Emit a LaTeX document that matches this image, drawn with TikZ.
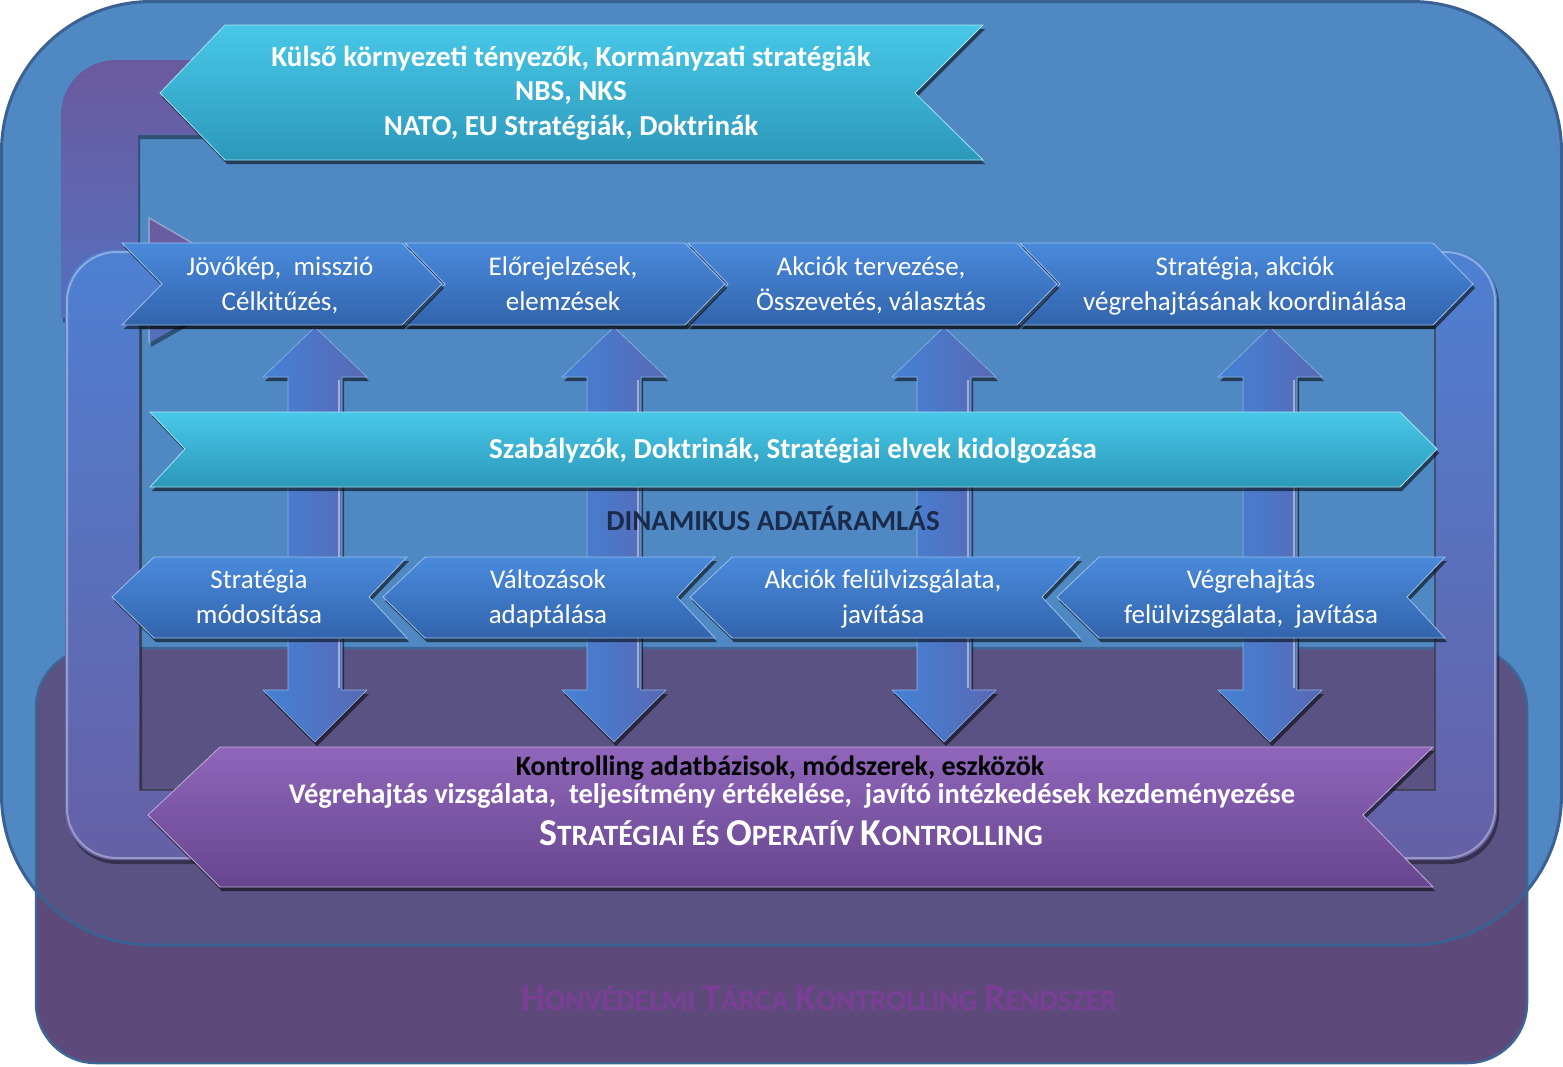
\documentclass[tikz,border=0pt]{standalone}
\usepackage{fontspec}
\setmainfont{Carlito}
\usetikzlibrary{shadows}
\definecolor{bgblue}{HTML}{4F88C2}
\definecolor{bgblueedge}{HTML}{3A6192}
\definecolor{bgpurple}{HTML}{5E4A7A}
\definecolor{bgmix}{HTML}{5A5283}
\definecolor{purpleedge}{HTML}{3F6595}
\definecolor{chevtop}{HTML}{4A8ADC}
\definecolor{chevbot}{HTML}{3264AC}
\definecolor{cyantop}{HTML}{48C8E8}
\definecolor{cyanbot}{HTML}{2C98BA}
\definecolor{purtop}{HTML}{9066BB}
\definecolor{purbot}{HTML}{66458E}
\definecolor{pipetop}{HTML}{4E80D2}
\definecolor{pipebot}{HTML}{6660A6}
\definecolor{pipeonetop}{HTML}{6B5A9D}
\definecolor{pipeonebot}{HTML}{5470C0}
\definecolor{varrleft}{HTML}{4582D6}
\definecolor{varrright}{HTML}{5868B4}
\definecolor{titlepurple}{HTML}{7A3E96}
\definecolor{navy}{HTML}{1B2B4B}
\newcommand\hvBig[1]{{\fontsize{38}{38}\selectfont #1}}
\newcommand\hvSm[1]{{\fontsize{29.5}{29.5}\selectfont #1}}
\newcommand\stBig[1]{{\fontsize{38}{38}\selectfont #1}}
\newcommand\stSm[1]{{\fontsize{29.5}{29.5}\selectfont #1}}
\tikzset{
  shad/.style={drop shadow={shadow xshift=2pt, shadow yshift=-4pt, opacity=0.55, fill=black}},
  chev/.style={top color=chevtop, bottom color=chevbot, draw=chevtop!55!white, line width=0.8pt, shad},
  cyanarrow/.style={top color=cyantop, bottom color=cyanbot, draw=cyantop!50!white, line width=0.8pt, shad},
  purarrow/.style={top color=purtop, bottom color=purbot, draw=purtop!55!white, line width=0.8pt, shad},
  vertarrow/.style={left color=varrleft, right color=varrright, draw=varrleft!60!white, line width=0.6pt, shad},
  pipetwo/.style={top color=pipetop, bottom color=pipebot},
  pipeone/.style={top color=pipeonetop, bottom color=pipeonebot},
  pipeshadow/.style={fill=black, opacity=0.4},
  chevtext/.style={text=white, font=\fontsize{27}{33}\selectfont, anchor=base, inner sep=0pt},
  boldwhite/.style={text=white, font=\bfseries\fontsize{29}{32}\selectfont, anchor=base, inner sep=0pt},
}
\begin{document}
\begin{tikzpicture}[x=1pt,y=-1pt]
\useasboundingbox (0,0) rectangle (1563,1066);
% ---------- background panels
\fill[bgpurple, rounded corners=60] (36,648) rectangle (1527,1063);
\fill[bgblue, rounded corners=150] (1.5,1.5) rectangle (1561.5,945);
\begin{scope}
  \clip[rounded corners=150] (1.5,1.5) rectangle (1561.5,945);
  \fill[bgmix, rounded corners=60] (36,648) rectangle (1527,1063);
\end{scope}
\draw[purpleedge, line width=2.5pt, rounded corners=60] (36,648) rectangle (1527,1063);
\draw[bgblueedge, line width=3pt, rounded corners=150] (1.5,1.5) rectangle (1561.5,945);
% ---------- upper-left bent pipe with its arrowhead
\begin{scope}[shift={(2,4)}]
\path[pipeshadow] (330,60) -- (116,60) .. controls (85.6,60) and (61,84.4) .. (61,115)
   -- (61,318) -- (150,318) -- (150,248) -- (138,248) -- (138,135) -- (330,135) -- cycle;
\path[pipeshadow] (149,218) -- (258,281) -- (149,343) -- cycle;
\end{scope}
\path[pipeone] (330,60) -- (116,60) .. controls (85.6,60) and (61,84.4) .. (61,115)
   -- (61,318) -- (150,318) -- (150,248) -- (138,248) -- (138,135) -- (330,135) -- cycle;
\path[pipeone] (149,218) -- (258,281) -- (149,343) -- cycle;
\draw[white, opacity=0.35, line width=1.5pt] (149,343) -- (149,218) -- (258,281);
% ---------- top cyan arrow
\path[cyanarrow] (160,93) -- (225,25) -- (983,25) -- (915,93) -- (983,160) -- (225,160) -- cycle;
% ---------- vertical double arrows
\foreach \cx in {315,614,944,1270}{
  \path[vertarrow] (\cx,327) -- (\cx+52,377) -- (\cx+27,377) -- (\cx+27,690) -- (\cx+52,690)
     -- (\cx,742) -- (\cx-52,690) -- (\cx-27,690) -- (\cx-27,377) -- (\cx-52,377) -- cycle;
  \draw[white, opacity=0.45, line width=2.5pt] (\cx+24,380) -- (\cx+24,688);
}
% ---------- big loop pipe
\path[pipeshadow, even odd rule, shift={(2,4)}] (140,325) rectangle (1435,790) {[rounded corners=50] (65,250) rectangle (1497,860)};
\path[pipetwo, even odd rule] (140,325) rectangle (1435,790) {[rounded corners=50] (65,250) rectangle (1497,860)};
\draw[white, opacity=0.35, line width=2pt, rounded corners=50] (67,252) rectangle (1495,858);
\draw[black!80, opacity=0.6, line width=2pt] (140,325) rectangle (1435,790);
% ---------- first row of chevrons (right-pointing)
\path[chev] (1020,243) -- (1433,243) -- (1473,284) -- (1433,325) -- (1020,325) -- (1060,284) -- cycle;
\path[chev] (688,243) -- (1017,243) -- (1057,284) -- (1017,325) -- (688,325) -- (728,284) -- cycle;
\path[chev] (405,243) -- (685,243) -- (725,284) -- (685,325) -- (405,325) -- (445,284) -- cycle;
\path[chev] (122,243) -- (402,243) -- (442,284) -- (402,325) -- (122,325) -- (162,284) -- cycle;
% ---------- middle cyan arrow
\path[cyanarrow] (150,412) -- (1400,412) -- (1437,449) -- (1400,487) -- (150,487) -- (185,449) -- cycle;
% ---------- second row of chevrons (left-pointing)
\path[chev] (112,597) -- (154,557) -- (407,557) -- (369,597) -- (407,638) -- (154,638) -- cycle;
\path[chev] (383,597) -- (425,557) -- (715,557) -- (677,597) -- (715,638) -- (425,638) -- cycle;
\path[chev] (690,597) -- (732,557) -- (1080,557) -- (1042,597) -- (1080,638) -- (732,638) -- cycle;
\path[chev] (1057,597) -- (1099,557) -- (1445,557) -- (1407,597) -- (1445,638) -- (1099,638) -- cycle;
% ---------- purple controlling arrow
\path[purarrow] (148,815) -- (220,747) -- (1433,747) -- (1363,815) -- (1433,887) -- (220,887) -- cycle;
% ---------- texts
\node[boldwhite] (top1) at (571,66) {Külső környezeti tényezők, Kormányzati stratégiák};
\node[boldwhite] (top2) at (571,100) {NBS, NKS};
\node[boldwhite] (top3) at (571,135) {NATO, EU Stratégiák, Doktrinák};
\node[chevtext] (ra1) at (280,275) {Jövőkép,~ misszió};
\node[chevtext] (ra2) at (280,310) {Célkitűzés,};
\node[chevtext] (rb1) at (563,275) {Előrejelzések,};
\node[chevtext] (rb2) at (563,310) {elemzések};
\node[chevtext] (rc1) at (871,275) {Akciók tervezése,};
\node[chevtext] (rc2) at (871,310) {Összevetés, választás};
\node[chevtext] (rd1) at (1245,275) {Stratégia, akciók};
\node[chevtext] (rd2) at (1245,310) {végrehajtásának koordinálása};
\node[boldwhite] (mid) at (793,458) {Szabályzók, Doktrinák, Stratégiai elvek kidolgozása};
\node[anchor=base, inner sep=0pt, text=navy, font=\bfseries\fontsize{29}{32}\selectfont] (dyn) at (773,530) {DINAMIKUS ADATÁRAMLÁS};
\node[chevtext] (sa1) at (259,588) {Stratégia};
\node[chevtext] (sa2) at (259,623) {módosítása};
\node[chevtext] (sb1) at (548,588) {Változások};
\node[chevtext] (sb2) at (548,623) {adaptálása};
\node[chevtext] (sc1) at (883,588) {Akciók felülvizsgálata,};
\node[chevtext] (sc2) at (883,623) {javítása};
\node[chevtext] (sd1) at (1251,588) {Végrehajtás};
\node[chevtext] (sd2) at (1251,623) {felülvizsgálata,~ javítása};
\node[boldwhite, text=black, font=\bfseries\fontsize{28}{32}\selectfont, text depth=0pt] (k1) at (780,775) {Kontrolling adatbázisok, módszerek, eszközök};
\node[boldwhite, font=\bfseries\fontsize{28.5}{32}\selectfont, text height=18pt] (k2) at (792,803) {Végrehajtás vizsgálata,~ teljesítmény értékelése,~ javító intézkedések kezdeményezése};
\node[anchor=base, inner sep=0pt, text=white, font=\bfseries\fontsize{29.5}{30}\selectfont] (k3) at (791,845)
  {\stBig{S}\stSm{TRATÉGIAI ÉS} \stBig{O}\stSm{PERATÍV} \stBig{K}\stSm{ONTROLLING}};
\node[anchor=base, inner sep=0pt, text=titlepurple, font=\bfseries\fontsize{29.5}{32}\selectfont] (hv) at (819,1010)
  {\hvBig{H}\hvSm{ONVÉDELMI} \hvBig{T}\hvSm{ÁRCA} \hvBig{K}\hvSm{ONTROLLING} \hvBig{R}\hvSm{ENDSZER}};
\end{tikzpicture}
\end{document}
